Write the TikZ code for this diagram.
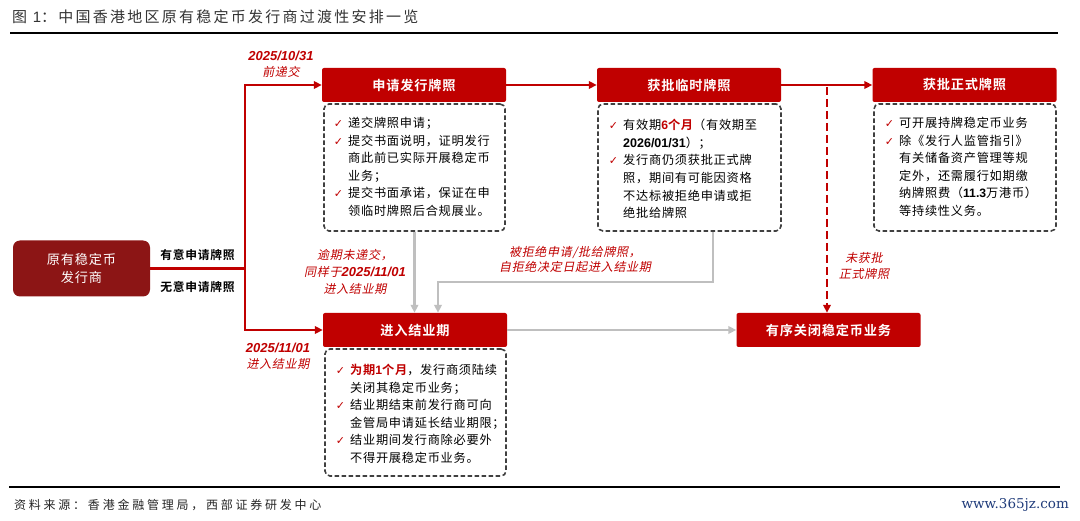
\documentclass[tikz,border=0pt]{standalone}
\usepackage{fontspec}
\setmainfont{Noto Sans CJK SC}[BoldFont={Noto Sans CJK SC Bold}, ItalicFont={Noto Sans CJK SC}, ItalicFeatures={FakeSlant=0.2}, BoldItalicFont={Noto Sans CJK SC Bold}, BoldItalicFeatures={FakeSlant=0.2}, LetterSpace=6]
\newfontfamily\lat{Liberation Sans}
\newfontfamily\dvs{DejaVu Sans}
\newfontfamily\wmfont{DejaVu Serif}
\usetikzlibrary{arrows.meta}
\definecolor{hdred}{HTML}{C00000}
\definecolor{dkred}{HTML}{8C1515}
\definecolor{lblred}{HTML}{C00000}
\definecolor{gline}{HTML}{BFBFBF}
\definecolor{dashgray}{HTML}{404040}
\definecolor{ttlgray}{HTML}{333333}
\definecolor{wmblue}{HTML}{1F3B7A}
\newcommand\ck{\makebox[0pt][r]{{\dvs\fontsize{11}{11}\selectfont\color{hdred}✓}\hspace{5pt}}}
\newcommand\latbi[1]{{\lat\bfseries\itshape #1}}
\tikzset{
  hdr/.style={fill=hdred, rounded corners=2pt, minimum width=184pt, minimum height=34pt, inner sep=0, text=white, font=\fontsize{13.2}{14}\selectfont\bfseries},
  dbox/.style={draw=dashgray, dash pattern=on 4.5pt off 2.5pt, line width=1.6pt, rounded corners=5pt, minimum height=127pt, inner sep=0},
  body/.style={anchor=north west, inner sep=0, align=left, font=\fontsize{12.2}{17.6}\selectfont},
  redarr/.style={draw=hdred, line width=2.2pt, -{Triangle[length=8pt,width=7.5pt]}},
  redln/.style={draw=hdred, line width=2.2pt},
  grayarr/.style={draw=gline, line width=2.2pt, -{Triangle[length=8pt,width=7.5pt]}},
  lbl/.style={text=lblred, font=\fontsize{12}{16}\selectfont\itshape, align=center, inner sep=0},
  side/.style={font=\fontsize{11.8}{13}\selectfont\bfseries, inner sep=0},
}
\begin{document}
\begin{tikzpicture}[x=1pt,y=-1pt]
\useasboundingbox (0,0) rectangle (1080,521);
\fill[white] (0,0) rectangle (1080,521);
% title and rules
\node[anchor=west, inner sep=0, text=ttlgray, font=\fontsize{15}{16}\selectfont\addfontfeature{LetterSpace=15}] (title) at (12,17) {图 {\lat 1}：中国香港地区原有稳定币发行商过渡性安排一览};
\coordinate (r1a) at (10,33); \coordinate (r1b) at (1058,33);
\draw[line width=1.6pt] (r1a) -- (r1b);
\coordinate (r2a) at (9,487); \coordinate (r2b) at (1060,487);
\draw[line width=1.4pt] (r2a) -- (r2b);
\node[anchor=west, inner sep=0, text=black!85, font=\fontsize{12}{12}\selectfont\addfontfeature{LetterSpace=23}] (srctext) at (14,505) {资料来源：香港金融管理局，西部证券研发中心};
\node[anchor=east, inner sep=0, text=wmblue, font=\wmfont\fontsize{13.5}{14}\selectfont] (wm) at (1069,505) {www.365jz.com};

% main nodes
\node[fill=dkred, rounded corners=7pt, minimum width=137pt, minimum height=56pt, inner sep=0, text=white, align=center, font=\fontsize{13.2}{18.5}\selectfont] (src) at (81.5,268.5) {原有稳定币\\发行商};
\node[hdr] (h1) at (414,85) {申请发行牌照};
\node[hdr] (h2) at (689,85) {获批临时牌照};
\node[hdr] (h3) at (964.5,85) {获批正式牌照};
\node[hdr] (h4) at (415,330) {进入结业期};
\node[hdr] (h5) at (828.5,330) {有序关闭稳定币业务};

\node[dbox, minimum width=181pt] (d1) at (414.5,167.5) {};
\node[dbox, minimum width=183pt] (d2) at (689.5,167.5) {};
\node[dbox, minimum width=182pt] (d3) at (965,167.5) {};
\node[dbox, minimum width=181pt] (d4) at (415.5,412.5) {};

\node[body] (b1) at (348,117) {\ck 递交牌照申请；\\\ck 提交书面说明，证明发行\\商此前已实际开展稳定币\\业务；\\\ck 提交书面承诺，保证在申\\领临时牌照后合规展业。};
\node[body] (b2) at (623,119) {\ck 有效期{\color{hdred}\bfseries{\lat 6}个月}（有效期至\\{\lat\bfseries\fontsize{12.5}{17.6}\selectfont 2026/01/31}）；\\\ck 发行商仍须获批正式牌\\照，期间有可能因资格\\不达标被拒绝申请或拒\\绝批给牌照};
\node[body] (b3) at (899,117) {\ck 可开展持牌稳定币业务\\\ck 除《发行人监管指引》\\有关储备资产管理等规\\定外，还需履行如期缴\\纳牌照费（{\lat\bfseries 11.3}万港币）\\等持续性义务。};
\node[body] (b4) at (350,364) {\ck {\color{hdred}\bfseries 为期{\lat 1}个月}，发行商须陆续\\关闭其稳定币业务；\\\ck 结业期结束前发行商可向\\金管局申请延长结业期限；\\\ck 结业期间发行商除必要外\\不得开展稳定币业务。};

% side labels
\node[side] (s1) at (197.5,255) {有意申请牌照};
\node[side] (s2) at (197.5,287) {无意申请牌照};
\node[lbl] (t1) at (281,64) {{\fontsize{13}{16}\selectfont\latbi{2025/10/31}}\\前递交};
\node[lbl] (t2) at (278,356) {{\fontsize{13}{16}\selectfont\latbi{2025/11/01}}\\进入结业期};
\node[lbl, font=\fontsize{12}{17}\selectfont\itshape] (g1) at (355,272) {逾期未递交，\\同样于{\fontsize{13}{17}\selectfont\latbi{2025/11/01}}\\进入结业期};
\node[lbl, font=\fontsize{12}{15.5}\selectfont\itshape] (g2) at (575,259.5) {被拒绝申请/批给牌照，\\自拒绝决定日起进入结业期};
\node[lbl, font=\fontsize{12}{16}\selectfont\itshape] (g3) at (864,266) {未获批\\正式牌照};

% connectors
\coordinate (j) at (245,268.5);
\draw[redln] (src.east) -- (j);
\draw[redarr] (j) |- (h1.west);
\draw[redarr] (j) |- (h4.west);
\draw[redarr] (h1.east) -- (h2.west);
\draw[redarr] (h2.east) -- (h3.west);
\coordinate (dt) at (827,87);
\draw[redarr, dash pattern=on 8pt off 4pt] (dt) -- (dt |- h5.north);
\draw[grayarr] (d1.south) -- (d1.south |- h4.north);
\coordinate (gk) at (438,282);
\draw[grayarr] ([xshift=23.5pt]d2.south) |- (gk) -- (gk |- h4.north);
\draw[grayarr] (h4.east) -- (h5.west);
\end{tikzpicture}
\end{document}
